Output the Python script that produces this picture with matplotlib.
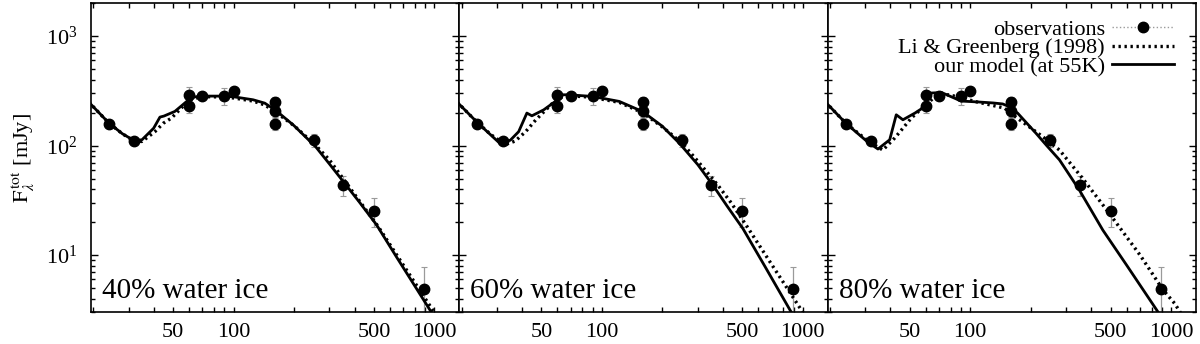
import matplotlib
matplotlib.use("Agg")
import matplotlib.pyplot as plt
from matplotlib.lines import Line2D
from matplotlib.ticker import FixedLocator, FixedFormatter, NullFormatter, LogLocator, LogFormatterMathtext

plt.rcParams["font.family"] = "serif"
plt.rcParams["font.serif"] = ["Liberation Serif", "DejaVu Serif"]
plt.rcParams["mathtext.fontset"] = "stix"

# observations: wavelength [um], flux [mJy], error [mJy]
obs_wav = [24, 32, 60, 60, 70, 90, 100, 160, 160, 160, 250, 350, 500, 890]
obs_flux = [157, 111, 290, 229, 281, 283, 312, 249, 209, 158, 113, 44, 25.4, 4.95]
obs_err = [10, 8, 55, 30, 20, 50, 25, 30, 25, 20, 15, 9, 7.5, 2.8]

# our model (55K), per ice fraction
model40_wav = [19, 24, 28, 32, 35, 40, 43, 45, 51, 58, 62, 69, 85, 100, 125, 143, 162, 200, 257, 300, 358, 420, 514, 650, 800, 966, 1100]
model40_flux = [250, 160, 128, 111, 113, 144, 182, 186, 205, 250, 276, 283, 283, 279, 262, 244, 210, 152, 97, 68, 45, 31, 19, 9.5, 5.2, 3.0, 2.0]
model60_wav = [19, 24, 31, 35, 38.5, 42.3, 44.8, 51.3, 58.6, 61, 68, 85, 100, 122, 159, 200, 243, 300, 356, 420, 503, 650, 877, 1000]
model60_flux = [250, 162, 105, 112, 134, 198, 187, 212, 253, 291, 291, 283, 271, 253, 205, 150, 105, 67, 43.7, 28, 17.5, 7.8, 3.0, 2.0]
model80_wav = [19, 24, 31, 34.7, 39.7, 42.8, 46.2, 53, 59.4, 61.7, 72, 90, 110, 130, 145, 155, 163, 172, 190, 212, 240, 278, 349, 457, 600, 807, 950]
model80_flux = [250, 160, 107, 93, 113, 191, 172, 198, 227, 301, 305, 255, 250, 245, 240, 228, 212, 198, 162, 130, 100, 74, 39.3, 16.9, 8.1, 3.6, 2.3]

# Li & Greenberg (1998)
lg40_wav = [19, 24, 28, 32, 35, 40.6, 44.7, 49, 56, 62, 70, 85, 100, 125, 143, 162, 200, 257, 300, 386, 525, 700, 900, 986, 1100]
lg40_flux = [250, 160, 128, 110, 109, 134, 160, 178, 228, 265, 280, 278, 272, 255, 235, 202, 152, 100, 74, 39.3, 18.2, 8.1, 4.0, 3.1, 2.3]
lg60_wav = [19, 24, 28, 33, 37, 41.7, 46.9, 53, 60, 68, 85, 100, 122, 159, 200, 251, 300, 377, 440, 527, 700, 850, 1000, 1100]
lg60_flux = [250, 162, 126, 102, 110, 134, 172, 215, 270, 285, 278, 265, 248, 200, 148, 105, 72, 43.7, 30, 18.3, 8.2, 4.75, 3.0, 2.3]
lg80_wav = [19, 24, 31, 36.7, 42, 46.2, 50.8, 56, 61.7, 66.6, 77.6, 90, 105, 130, 148, 170, 200, 230, 278, 363, 484, 700, 912, 1043, 1150]
lg80_flux = [250, 160, 110, 91, 117, 144, 178, 210, 244, 281, 291, 275, 253, 232, 220, 180, 145, 120, 91, 50, 25, 10, 4.8, 3.6, 2.7]

panel_labels = ["40% water ice", "60% water ice", "80% water ice"]
models = [(model40_wav, model40_flux), (model60_wav, model60_flux), (model80_wav, model80_flux)]
lgs = [(lg40_wav, lg40_flux), (lg60_wav, lg60_flux), (lg80_wav, lg80_flux)]

fig, axes = plt.subplots(1, 3, figsize=(12, 3.44), dpi=100, sharey=True)
fig.subplots_adjust(left=0.0758, right=0.9967, bottom=0.092, top=0.991, wspace=0)

for i, ax in enumerate(axes):
    ax.set_xscale("log")
    ax.set_yscale("log")
    ax.errorbar(obs_wav, obs_flux, yerr=obs_err, fmt="none", ecolor="#9a9a9a",
                elinewidth=0.9, capsize=2.5, capthick=0.8, linestyle=":", zorder=2)
    ax.plot(lgs[i][0], lgs[i][1], color="black", lw=2.4, linestyle=(0, (0.7, 1.1)), zorder=3)
    ax.plot(models[i][0], models[i][1], color="black", lw=2.0, zorder=4)
    ax.plot(obs_wav, obs_flux, "o", color="black", ms=7.5, zorder=5)
    ax.set_xlim(19.5, 1330)
    ax.set_ylim(3, 2000)
    ax.text(0.03, 0.045, panel_labels[i], transform=ax.transAxes, fontsize=21, va="baseline")

    ax.xaxis.set_major_locator(FixedLocator([50, 100, 500, 1000]))
    ax.xaxis.set_major_formatter(FixedFormatter(["50", "100", "500", "1000"]))
    ax.xaxis.set_minor_locator(FixedLocator([20, 30, 40, 60, 70, 80, 90, 200, 300, 400, 600, 700, 800, 900]))
    ax.xaxis.set_minor_formatter(NullFormatter())
    ax.yaxis.set_major_locator(LogLocator(base=10))
    ax.yaxis.set_major_formatter(LogFormatterMathtext())
    ax.yaxis.set_minor_locator(LogLocator(base=10, subs=range(2, 10)))
    ax.yaxis.set_minor_formatter(NullFormatter())
    ax.tick_params(which="both", direction="in", top=True, right=True, width=1.0, labelsize=16)
    ax.tick_params(axis="x", which="both", length=3.5, pad=8)
    ax.tick_params(axis="y", which="major", length=5, pad=10)
    ax.tick_params(axis="y", which="minor", length=2.8)
    for s in ax.spines.values():
        s.set_linewidth(1.2)
    if i > 0:
        ax.tick_params(axis="y", labelleft=False)

axes[0].set_ylabel(r"$\mathrm{F}_{\lambda}^{\,\mathrm{tot}}$ [mJy]", fontsize=16, labelpad=6)

handles = [
    Line2D([], [], color="#9a9a9a", linestyle=":", lw=1.0, marker="o", ms=7.5,
           markerfacecolor="black", markeredgecolor="black"),
    Line2D([], [], color="black", lw=2.4, linestyle=(0, (0.7, 1.1))),
    Line2D([], [], color="black", lw=2.0),
]
labels = ["observations", "Li & Greenberg (1998)", "our model (at 55K)"]
axes[2].legend(handles, labels, loc="upper right", bbox_to_anchor=(1.0, 1.02),
               frameon=False, markerfirst=False,
               fontsize=16, handlelength=2.8, handletextpad=0.3, labelspacing=-0.08,
               borderaxespad=0.6, borderpad=0.4)

fig.savefig("out.png", dpi=100)
